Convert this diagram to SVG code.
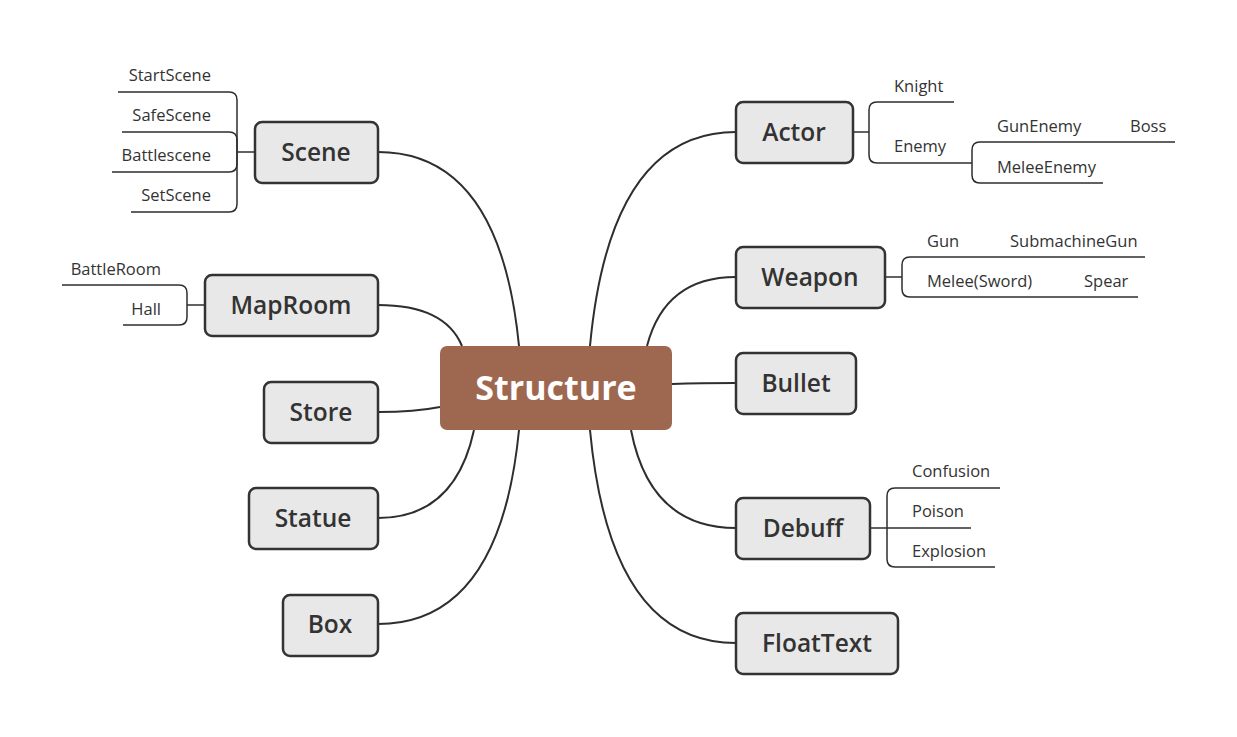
<svg xmlns="http://www.w3.org/2000/svg" width="1237" height="737" viewBox="0 0 1237 737">
<style>
.node rect{fill:#e8e8e8;stroke:#333;stroke-width:2.5}
.node text{font-family:"Open Sans","Noto Sans",sans-serif;font-size:24.5px;font-weight:600;fill:#333;text-anchor:middle}
.conn path{fill:none;stroke:#2e2e2e;stroke-width:2}
.sub path{fill:none;stroke:#2e2e2e;stroke-width:1.5}
.lbl text{font-family:"Open Sans","Noto Sans",sans-serif;font-size:16.5px;fill:#333}
.lbl .l{text-anchor:end}
</style>
<rect width="1237" height="737" fill="#fff"/>
<g class="conn">
<path d="M519 346 Q500 152 378 152"/>
<path d="M462 346 Q445 305 378 305"/>
<path d="M440 407 Q415 412 378 412"/>
<path d="M474 430 Q455 518 378 518"/>
<path d="M519 430 Q500 624 378 624"/>
<path d="M590 346 Q610 132 736 132"/>
<path d="M647 346 Q665 277 736 277"/>
<path d="M672 384 Q700 383 736 383"/>
<path d="M631 430 Q650 528 736 528"/>
<path d="M590 430 Q610 643 736 643"/>
</g>
<g class="sub">
<path d="M255 152 H237"/>
<path d="M237 152 V100 Q237 92 229 92 H118"/>
<path d="M237 152 V140 Q237 132 229 132 H122"/>
<path d="M237 152 V164 Q237 172 229 172 H112"/>
<path d="M237 152 V204 Q237 212 229 212 H131"/>
<path d="M205 305 H187"/>
<path d="M187 305 V293 Q187 285 179 285 H62"/>
<path d="M187 305 V317 Q187 325 179 325 H123"/>
<path d="M853 132 H869"/>
<path d="M869 132 V110 Q869 102 877 102 H954"/>
<path d="M869 132 V155 Q869 163 877 163 H972"/>
<path d="M972 163 V150 Q972 142 980 142 H1175"/>
<path d="M972 163 V175 Q972 183 980 183 H1103"/>
<path d="M885 277 H902"/>
<path d="M902 277 V265 Q902 257 910 257 H1145"/>
<path d="M902 277 V289 Q902 297 910 297 H1138"/>
<path d="M870 528 H971"/>
<path d="M887 528 V496 Q887 488 895 488 H1000"/>
<path d="M887 528 V559 Q887 567 895 567 H995"/>
</g>
<g class="lbl">
<text class="l" x="211" y="81">StartScene</text>
<text class="l" x="211" y="121">SafeScene</text>
<text class="l" x="211" y="161">Battlescene</text>
<text class="l" x="211" y="201">SetScene</text>
<text class="l" x="161" y="275">BattleRoom</text>
<text class="l" x="161" y="315">Hall</text>
<text x="894" y="92">Knight</text>
<text x="894" y="152">Enemy</text>
<text x="997" y="132">GunEnemy</text>
<text x="1130" y="132">Boss</text>
<text x="997" y="173">MeleeEnemy</text>
<text x="927" y="247">Gun</text>
<text x="1010" y="247">SubmachineGun</text>
<text x="927" y="287">Melee(Sword)</text>
<text x="1084" y="287">Spear</text>
<text x="912" y="477">Confusion</text>
<text x="912" y="517">Poison</text>
<text x="912" y="557">Explosion</text>
</g>
<g id="structure">
<rect x="440" y="346" width="232" height="84" rx="7" fill="#9e6850"/>
<text x="556" y="400" font-family="Open Sans, Noto Sans, sans-serif" font-size="34" font-weight="700" fill="#fff" text-anchor="middle">Structure</text>
</g>
<g id="scene" class="node"><rect x="255" y="122" width="123" height="61" rx="7"/><text x="316" y="161">Scene</text></g>
<g id="maproom" class="node"><rect x="205" y="275" width="173" height="61" rx="7"/><text x="291" y="314">MapRoom</text></g>
<g id="store" class="node"><rect x="264" y="382" width="114" height="61" rx="7"/><text x="321" y="421">Store</text></g>
<g id="statue" class="node"><rect x="249" y="488" width="129" height="61" rx="7"/><text x="313" y="527">Statue</text></g>
<g id="box" class="node"><rect x="283" y="595" width="95" height="61" rx="7"/><text x="330" y="633">Box</text></g>
<g id="actor" class="node"><rect x="736" y="102" width="117" height="61" rx="7"/><text x="794" y="141">Actor</text></g>
<g id="weapon" class="node"><rect x="736" y="247" width="149" height="61" rx="7"/><text x="810" y="286">Weapon</text></g>
<g id="bullet" class="node"><rect x="736" y="353" width="120" height="61" rx="7"/><text x="796" y="392">Bullet</text></g>
<g id="debuff" class="node"><rect x="736" y="498" width="134" height="61" rx="7"/><text x="803" y="537">Debuff</text></g>
<g id="floattext" class="node"><rect x="736" y="613" width="162" height="61" rx="7"/><text x="817" y="652">FloatText</text></g>
</svg>
